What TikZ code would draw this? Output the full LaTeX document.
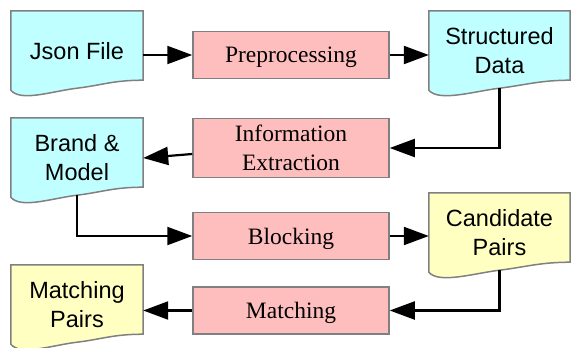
\documentclass[tikz,border=0pt]{standalone}
\usepackage{fontspec}
\setmainfont{Liberation Serif}
\newfontfamily\docfont{Liberation Sans}
\usetikzlibrary{arrows.meta,backgrounds}
\definecolor{doccyan}{RGB}{192,255,255}
\definecolor{docyellow}{RGB}{255,255,194}
\definecolor{procpink}{RGB}{255,190,190}
\definecolor{edgegray}{RGB}{128,128,128}

\newcommand{\wavedoc}[2]{%
  \draw[docline, fill=#2] (#1.north west) -- (#1.north east) -- ([yshift=11pt]#1.south east)
    .. controls ([xshift=-30pt,yshift=11pt]#1.south east) and ([xshift=25pt,yshift=6pt]#1.south) .. ([yshift=3pt]#1.south)
    .. controls ([xshift=-25pt]#1.south) and ([xshift=10pt,yshift=-11pt]#1.south west) .. ([yshift=1pt]#1.south west) -- cycle;}

\begin{document}
\begin{tikzpicture}[x=1pt,y=-1pt,
    doc/.style={rectangle, minimum width=132pt, minimum height=80pt, inner sep=0pt, align=center,
      font=\docfont\fontsize{23.5}{29}\selectfont},
    proc/.style={rectangle, draw=edgegray, line width=1.5pt, fill=procpink, minimum width=196pt,
      minimum height=47pt, inner sep=6.5pt, align=center, font=\fontsize{23.5}{29}\selectfont},
    docline/.style={draw=edgegray, line width=1.5pt},
    flow/.style={-{Triangle[length=25pt,width=18pt]}, line width=2.2pt}]
  \useasboundingbox (0,0) rectangle (573,348);

  \node [doc] (json) at (77,51) {Json File};
  \node [doc, minimum width=141pt] (struct) at (499.5,51) {Structured\\Data};
  \node [doc] (brand) at (77,158) {Brand \&\\Model};
  \node [doc, minimum width=141pt] (cand) at (499.5,233) {Candidate\\Pairs};
  \node [doc] (mpairs) at (77,305) {Matching\\Pairs};

  \node [proc, text depth=0pt] (pre) at (291,55) {Preprocessing};
  \node [proc] (ie) at (291,148) {Information\\Extraction};
  \node [proc, text depth=0pt] (block) at (291,236) {Blocking};
  \node [proc, text depth=0pt] (match) at (291,310.5) {Matching};

  \begin{scope}[on background layer]
    \wavedoc{json}{doccyan}
    \wavedoc{struct}{doccyan}
    \wavedoc{brand}{doccyan}
    \wavedoc{cand}{docyellow}
    \wavedoc{mpairs}{docyellow}
  \end{scope}

  \draw [flow] (json.east |- pre.west) -- (pre.west);
  \draw [flow] (pre.east) -- (struct.west |- pre.east);
  \draw [flow] ([yshift=3pt]struct.south) |- (ie.east);
  \draw [flow] ([yshift=-6pt]ie.west) -- (brand.east);
  \draw [flow] ([yshift=3pt]brand.south) |- (block.west);
  \draw [flow] (block.east) -- (cand.west |- block.east);
  \draw [flow] ([yshift=3pt]cand.south) |- (match.east);
  \draw [flow] (match.west) -- (mpairs.east |- match.west);
\end{tikzpicture}
\end{document}
